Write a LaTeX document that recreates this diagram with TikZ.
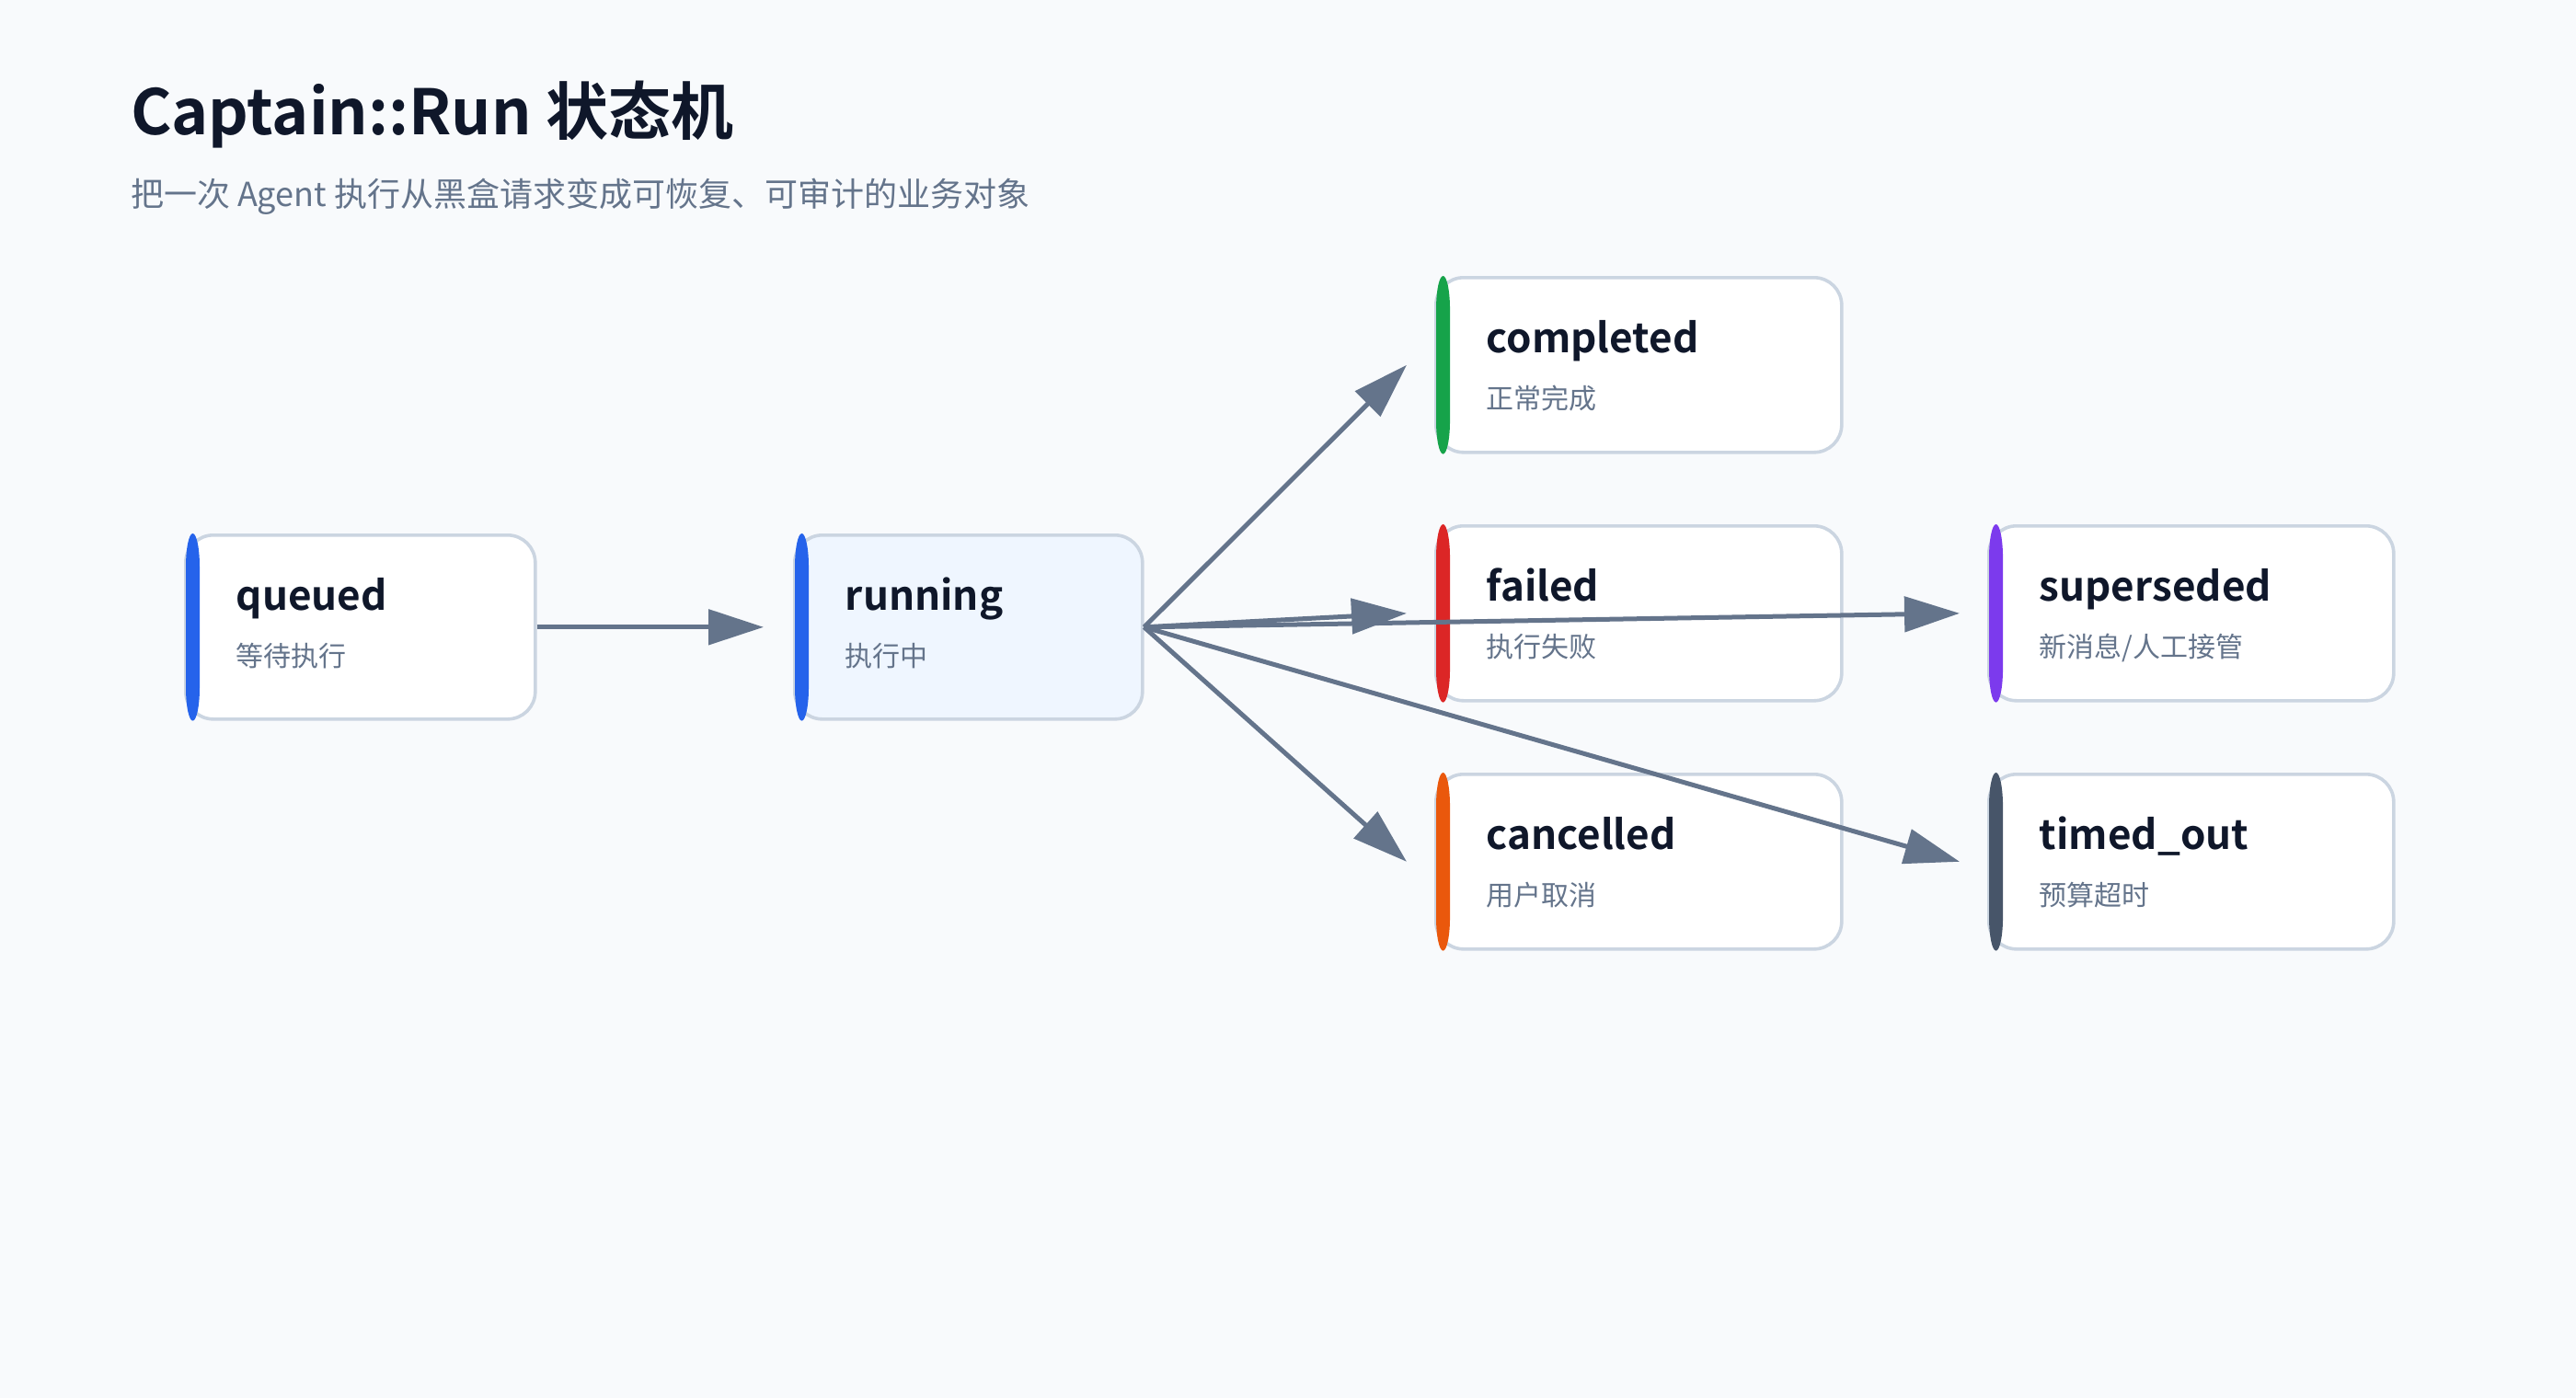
\documentclass[tikz,border=0pt]{standalone}
\usepackage{fontspec}
\setmainfont{Noto Sans CJK SC}[BoldFont={* Bold}]
\usetikzlibrary{arrows.meta}
\definecolor{bgc}{HTML}{F8FAFC}
\definecolor{bordc}{HTML}{CBD5E1}
\definecolor{inkc}{HTML}{0F172A}
\definecolor{grayc}{HTML}{64748B}
\definecolor{runfill}{HTML}{EFF6FF}
\definecolor{cblue}{HTML}{2563EB}
\definecolor{cgreen}{HTML}{16A34A}
\definecolor{cred}{HTML}{DC2626}
\definecolor{corange}{HTML}{EA580C}
\definecolor{cpurple}{HTML}{7C3AED}
\definecolor{cslate}{HTML}{475569}
\tikzset{
  stbox/.style={draw=bordc, line width=0.9pt, rounded corners=7.5pt, inner sep=0pt, anchor=north west},
  ttl/.style={anchor=base west, inner sep=0pt, text=inkc, font=\fontsize{11pt}{13pt}\selectfont\bfseries},
  sublbl/.style={anchor=base west, inner sep=0pt, text=grayc, font=\fontsize{7.5pt}{9pt}\selectfont},
  conn/.style={draw=grayc, line width=1.25pt, -{Triangle[length=15pt, width=9.5pt]}},
}
\newcommand\stbox[9]{%
  \node[stbox, fill=#6, minimum width=#4pt, minimum height=#5pt] (#1) at (#2,#3) {};
  \fill[#7] ([xshift=0.5pt,yshift=-9pt]#1.north west)
     arc[start angle=180, end angle=0, x radius=1.875pt, y radius=9pt]
     -- ([xshift=4.25pt,yshift=9pt]#1.south west)
     arc[start angle=0, end angle=-180, x radius=1.875pt, y radius=9pt] -- cycle;
  \node[ttl] (#1-t) at ([xshift=14pt,yshift=-20.75pt]#1.north west) {#8};
  \node[sublbl] (#1-s) at ([xshift=14pt,yshift=-36.2pt]#1.north west) {#9};
}
\begin{document}
\begin{tikzpicture}[x=1pt,y=1pt]
\fill[bgc] (0,0) rectangle (700,-380);
\useasboundingbox (0,0) rectangle (700,-380);
\node[anchor=base west, inner sep=0pt, text=inkc, font=\fontsize{17pt}{20pt}\selectfont\bfseries] (title) at (35.3,-36.6) {Captain::Run 状态机};
\node[anchor=base west, inner sep=0pt, text=grayc, font=\fontsize{9pt}{11pt}\selectfont] (subtitle) at (35.3,-56.2) {把一次 Agent 执行从黑盒请求变成可恢复、可审计的业务对象};
\stbox{queued}{50}{-145}{95}{50}{white}{cblue}{queued}{等待执行}
\stbox{running}{215.5}{-145}{94.5}{50}{runfill}{cblue}{running}{执行中}
\stbox{completed}{389.75}{-75}{110.25}{47.5}{white}{cgreen}{completed}{正常完成}
\stbox{failed}{389.75}{-142.5}{110.25}{47.5}{white}{cred}{failed}{执行失败}
\stbox{cancelled}{389.75}{-210}{110.25}{47.5}{white}{corange}{cancelled}{用户取消}
\stbox{superseded}{540}{-142.5}{110}{47.5}{white}{cpurple}{superseded}{新消息/人工接管}
\stbox{timedout}{540}{-210}{110}{47.5}{white}{cslate}{timed\_out}{预算超时}
\draw[conn] (queued.east) -- ([xshift=-8pt]running.west);
\draw[conn] (running.east) -- ([xshift=-7.5pt]completed.west);
\draw[conn] (running.east) -- ([xshift=-7.5pt]failed.west);
\draw[conn] (running.east) -- ([xshift=-7.5pt]cancelled.west);
\draw[conn] (running.east) -- ([xshift=-7.5pt]superseded.west);
\draw[conn] (running.east) -- ([xshift=-7.5pt]timedout.west);
\end{tikzpicture}
\end{document}
